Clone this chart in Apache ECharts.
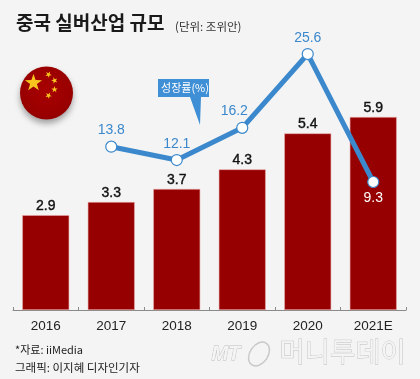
<!DOCTYPE html>
<html>
<head>
<meta charset="utf-8">
<style>
  html, body { margin: 0; padding: 0; background: #f4f4f4; }
  #chart { width: 420px; height: 379px; }
</style>
<script src="https://cdn.jsdelivr.net/npm/echarts@6/dist/echarts.min.js"></script>
</head>
<body>
<div id="chart"></div>
<script>
const categories = ['2016', '2017', '2018', '2019', '2020', '2021E']
const marketSize = [2.9, 3.3, 3.7, 4.3, 5.4, 5.9]
const growthRate = [null, 13.8, 12.1, 16.2, 25.6, 9.3]

const KR = '"Noto Sans CJK KR", sans-serif'
const LATIN = '"Liberation Sans", Arial, sans-serif'
const BLUE = '#3b88cc'

function star(cx, cy, r, rot) {
  const pts = []
  for (let i = 0; i < 10; i++) {
    const rad = i % 2 ? r * 0.4 : r
    const a = rot + (i * Math.PI) / 5 - Math.PI / 2
    pts.push([cx + rad * Math.cos(a), cy + rad * Math.sin(a)])
  }
  return { type: 'polygon', shape: { points: pts }, style: { fill: '#f7c51e' }, silent: true }
}

const chart = echarts.init(document.getElementById('chart'))
chart.setOption({
  backgroundColor: '#f4f4f4',
  animation: false,
  grid: { left: 13, right: 14, top: 30, bottom: 69 },
  xAxis: {
    type: 'category',
    data: categories,
    axisLine: { lineStyle: { color: '#8a8a8a', width: 1 } },
    axisTick: { show: true, length: 3, inside: true, lineStyle: { color: '#8a8a8a' } },
    axisLabel: { color: '#222', fontSize: 13.5, fontFamily: LATIN, margin: 9 },
  },
  yAxis: [
    { type: 'value', min: 0, max: 8.56, show: false, splitLine: { show: false } },
    { type: 'value', min: -7, max: 28.66, show: false, splitLine: { show: false } },
  ],
  series: [
    {
      type: 'bar',
      data: marketSize,
      barWidth: 47,
      itemStyle: { color: '#960000', borderColor: '#e9a9a9', borderWidth: 0.6 },
      label: {
        show: true,
        position: 'top',
        distance: 2,
        color: '#111',
        fontSize: 14,
        fontFamily: LATIN,
        textBorderColor: '#111',
        textBorderWidth: 0.4,
        formatter: (p) => p.value.toFixed(1),
      },
    },
    {
      type: 'line',
      yAxisIndex: 1,
      symbol: 'circle',
      symbolSize: 11,
      showAllSymbol: true,
      lineStyle: { color: BLUE, width: 5 },
      itemStyle: { color: '#fff', borderColor: BLUE, borderWidth: 1.2 },
      label: {
        show: true,
        position: 'top',
        distance: 3,
        color: BLUE,
        fontSize: 14,
        fontFamily: LATIN,
        formatter: (p) => p.value.toFixed(1),
      },
      labelLayout: (p) => {
        if (p.dataIndex === 3) return { dx: -8, dy: -1 }
        return {}
      },
      data: growthRate.map((v, i) =>
        i === 5
          ? { value: v, label: { position: 'bottom', distance: 3, color: '#fff' } }
          : v
      ),
      z: 5,
    },
  ],
  graphic: [
    {
      type: 'text',
      left: 16,
      top: 13,
      style: { text: '중국 실버산업 규모', fontSize: 19, fontWeight: 'bold', fontFamily: KR, fill: '#1a1a1a' },
    },
    {
      type: 'text',
      left: 175,
      top: 21,
      style: { text: '(단위: 조위안)', fontSize: 11.5, fontFamily: KR, fill: '#333' },
    },
    // 국기
    {
      type: 'circle',
      shape: { cx: 46.5, cy: 93, r: 26.5 },
      style: {
        fill: new echarts.graphic.RadialGradient(0.5, 0.45, 0.6, [
          { offset: 0, color: '#a80000' },
          { offset: 0.8, color: '#990000' },
          { offset: 1, color: '#8a0000' },
        ]),
        shadowColor: 'rgba(0,0,0,0.35)',
        shadowBlur: 6,
        shadowOffsetY: 4,
      },
      silent: true,
    },
    star(33.5, 83, 9, 0),
    star(48.5, 74.5, 3.4, 0.5),
    star(54.5, 80.5, 3.4, 0.9),
    star(54.5, 89.5, 3.4, 0),
    star(48.5, 95.5, 3.4, 0.5),
    // 성장률 말풍선
    {
      type: 'polygon',
      shape: { points: [[158, 79], [209, 79], [209, 97], [201, 97], [200, 125], [190, 97], [158, 97]] },
      style: { fill: '#3f8fd6' },
      silent: true,
    },
    {
      type: 'text',
      x: 185,
      y: 88,
      style: { text: '성장률(%)', fontSize: 11, fontFamily: KR, fill: '#fff', align: 'center', verticalAlign: 'middle' },
    },
    {
      type: 'text',
      left: 15,
      top: 344,
      style: { text: '*자료: iiMedia', fontSize: 11, fontFamily: KR, fill: '#222' },
    },
    {
      type: 'text',
      left: 15,
      top: 362,
      style: { text: '그래픽: 이지혜 디자인기자', fontSize: 11.5, fontFamily: KR, fill: '#222' },
    },
    // 워터마크
    {
      type: 'text',
      left: 211,
      top: 344,
      style: { text: 'MT', fontSize: 20, fontStyle: 'italic', fontWeight: 'bold', fontFamily: LATIN, fill: '#f4f4f4', stroke: '#bdbdbd', lineWidth: 0.8 },
    },
    {
      type: 'ellipse',
      shape: { cx: 259, cy: 354, rx: 9, ry: 13 },
      rotation: -0.6,
      originX: 259,
      originY: 354,
      style: { fill: 'none', stroke: '#c9c9c9', lineWidth: 1.5 },
      silent: true,
    },
    {
      type: 'text',
      left: 279,
      top: 337,
      style: { text: '머니투데이', fontSize: 27.5, fontFamily: KR, fill: '#f4f4f4', stroke: '#bdbdbd', lineWidth: 0.8 },
    },
  ],
})
</script>
</body>
</html>
